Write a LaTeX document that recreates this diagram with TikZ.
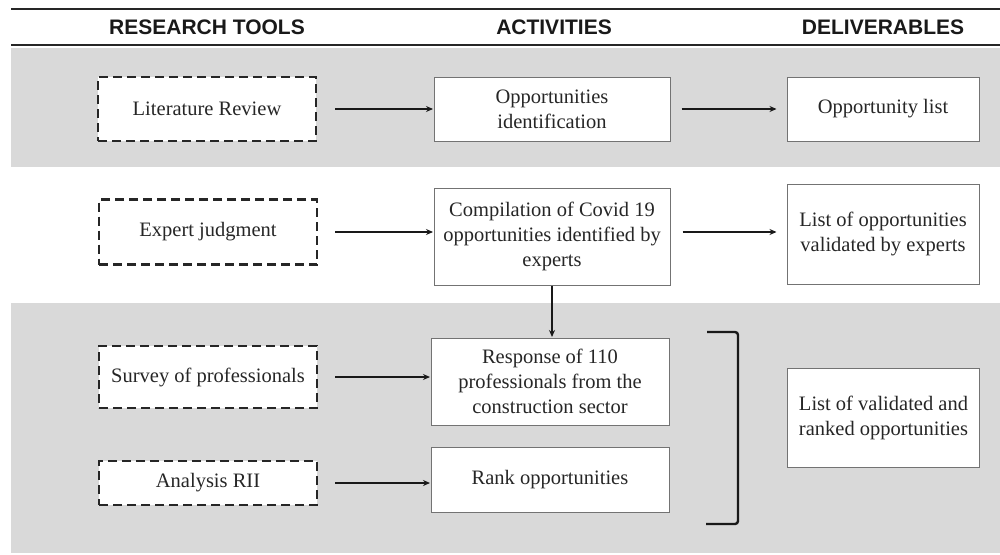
\documentclass[tikz,border=0pt]{standalone}
\usepackage{fontspec}
\setmainfont{Liberation Serif}
\newfontfamily\headfont{Liberation Sans}
\usetikzlibrary{arrows.meta}
\newcommand\tool[4][]{%
\node[toolbox,#1] (#2) at (#3) {#4};
}
\newcommand\activity[4][]{%
\node[actbox,#1] (#2) at (#3) {#4};
}
\newcommand\deliver[4][]{%
\node[delbox,#1] (#2) at (#3) {#4};
}

\begin{document}
\begin{tikzpicture}[x=1pt,y=-1pt,
	every node/.style={font=\fontsize{20.5}{25}\selectfont,text=black!85,align=center,inner sep=0pt},
	head/.style={font=\headfont\bfseries\fontsize{21}{21}\selectfont,text=black!90},
	toolbox/.style={draw=black!85,fill=white,dash pattern=on 9pt off 5pt,line width=2.2pt,minimum width=218pt,minimum height=64pt},
	actbox/.style={draw=black!55,fill=white,line width=1pt,minimum width=236pt,minimum height=64pt},
	delbox/.style={draw=black!55,fill=white,line width=1pt,minimum width=192pt,minimum height=64pt},
	arr/.style={draw=black!90,line width=2pt,-{Stealth[length=7pt,width=6pt]}}]
	%% some definitions
	\def\L{11} % left edge of bands
	\def\R{1000} % right edge of bands
	\definecolor{band}{gray}{0.85}

	\useasboundingbox (0,0) rectangle (1000,554);

	% header
	\draw[line width=2.4pt,black!85] (\L,9) -- (\R,9);
	\draw[line width=2.4pt,black!85] (\L,45) -- (\R,45);
	\node[head] (hTools) at (207,27) {RESEARCH TOOLS};
	\node[head] (hAct) at (554,27) {ACTIVITIES};
	\node[head] (hDel) at (883,27) {DELIVERABLES};

	% gray bands
	\fill[band] (\L,48) rectangle (\R,167);
	\fill[band] (\L,303) rectangle (\R,553);

	% research tools
	\tool{lit}{207,109}{Literature Review}
	\tool[minimum height=65pt]{expert}{208,232}{Expert judgment}
	\tool[minimum height=62pt]{survey}{208,377}{Survey of professionals}
	\tool[minimum height=44pt]{rii}{208,483}{Analysis RII}

	% activities
	\activity{opid}{552,109}{Opportunities\\identification}
	\activity[minimum height=97pt]{comp}{552,236.5}{Compilation of Covid 19\\opportunities identified by\\experts}
	\activity[minimum height=87pt,minimum width=238pt]{resp}{550,381.5}{Response of 110\\professionals from the\\construction sector}
	\activity[minimum height=65pt,minimum width=238pt]{rank}{550,479.5}{Rank opportunities}

	% deliverables
	\deliver{olist}{883,109}{Opportunity list}
	\deliver[minimum height=100pt]{valid}{883,234}{List of opportunities\\validated by experts}
	\deliver[minimum height=99pt]{ranked}{883.5,417.5}{List of validated and\\ranked opportunities}

	% arrows
	\draw[arr,shorten <=18pt,shorten >=0.5pt] (lit.east) -- (lit.east -| opid.west);
	\draw[arr,shorten <=11pt,shorten >=10pt] (opid.east) -- (opid.east -| olist.west);
	\draw[arr,shorten <=17pt,shorten >=0.5pt] (expert.east) -- (expert.east -| comp.west);
	\draw[arr,shorten <=12pt,shorten >=10pt] (expert.east -| comp.east) -- (expert.east -| valid.west);
	\draw[arr,shorten >=0.5pt] (comp.south) -- (comp.south |- resp.north);
	\draw[arr,shorten <=17pt,shorten >=0.5pt] (survey.east) -- (survey.east -| resp.west);
	\draw[arr,shorten <=17pt,shorten >=0.5pt] (rii.east) -- (rii.east -| rank.west);

	% bracket
	\draw[line width=2.4pt,black!90,rounded corners=3pt] (707,332) -- (738,332) -- (738,524) -- (706,524);
\end{tikzpicture}
\end{document}
